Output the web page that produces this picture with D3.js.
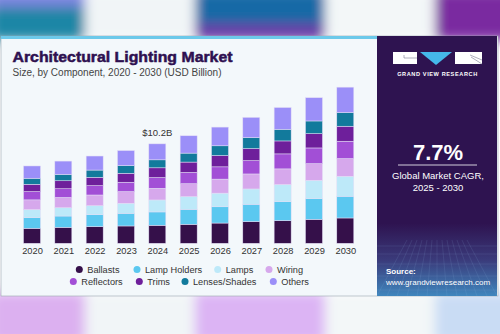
<!DOCTYPE html>
<html>
<head>
<meta charset="utf-8">
<script src="https://cdn.jsdelivr.net/npm/d3@7"></script>
<style>
  html, body { margin: 0; padding: 0; background: #fff; }
  svg { display: block; font-family: "Liberation Sans", Arial, sans-serif; }
</style>
</head>
<body>
<svg id="chart" width="500" height="334"></svg>
<script>
// --- data (USD Billion) ---
const years = ["2020", "2021", "2022", "2023", "2024", "2025", "2026", "2027", "2028", "2029", "2030"];
const components = ["Ballasts", "Lamp Holders", "Lamps", "Wiring", "Reflectors", "Trims", "Lenses/Shades", "Others"];
const ballasts     = [1.54, 1.64, 1.71, 1.78, 1.85, 1.95, 2.08, 2.23, 2.33, 2.46, 2.60];
const lampHolders  = [1.10, 1.16, 1.23, 1.30, 1.37, 1.54, 1.67, 1.78, 1.95, 2.13, 2.23];
const lamps        = [0.82, 0.85, 0.92, 1.03, 1.23, 1.30, 1.40, 1.57, 1.75, 1.88, 2.05];
const wiring       = [1.00, 1.06, 1.10, 1.20, 1.20, 1.33, 1.44, 1.54, 1.61, 1.71, 1.82];
const reflectors   = [0.85, 0.89, 0.96, 0.96, 1.10, 1.16, 1.26, 1.37, 1.54, 1.61, 1.78];
const trims        = [0.75, 0.82, 0.85, 0.92, 1.00, 1.06, 1.16, 1.23, 1.33, 1.47, 1.54];
const lenses       = [0.62, 0.65, 0.75, 0.79, 0.82, 0.92, 1.00, 1.13, 1.20, 1.30, 1.41];
const others       = [1.26, 1.37, 1.44, 1.54, 1.64, 1.78, 1.92, 2.08, 2.23, 2.39, 2.60];
const seriesValues = [ballasts, lampHolders, lamps, wiring, reflectors, trims, lenses, others];
const colors = ["#35104a", "#5bc8f0", "#bde9f9", "#d6a8ec", "#a24fd6", "#6e1f9b", "#127a9c", "#9b8ff8"];
const calloutYear = "2024";
const calloutText = "$10.2B";

const svg = d3.select("#chart");
const defs = svg.append("defs");

// --- blurred backdrop outside the card ---
defs.append("filter").attr("id", "blur")
  .attr("x", "-20%").attr("y", "-50%").attr("width", "140%").attr("height", "200%")
  .append("feGaussianBlur").attr("stdDeviation", 6);

const bg = svg.append("g").attr("filter", "url(#blur)");
const topBlocks = [
  [-10, 95, "#1a86a6"], [85, 110, "#f1f5f7"], [195, 130, "#1569a6"],
  [325, 110, "#f3f7f8"], [435, 80, "#7a2aa0"]
];
topBlocks.forEach(([x, w, c]) => bg.append("rect").attr("x", x).attr("y", -10).attr("width", w).attr("height", 50).attr("fill", c));
bg.append("rect").attr("x", -10).attr("y", -10).attr("width", 95).attr("height", 17).attr("fill", "#7b85e0");
bg.append("rect").attr("x", 195).attr("y", 24).attr("width", 130).attr("height", 16).attr("fill", "#6a3aa8");
const botBlocks = [
  [-10, 95, "#dcb0f0"], [85, 110, "#f1f5f7"], [195, 130, "#dcb4f4"],
  [325, 110, "#f3f7f8"], [435, 80, "#c9dcf4"]
];
botBlocks.forEach(([x, w, c]) => bg.append("rect").attr("x", x).attr("y", 292).attr("width", w).attr("height", 52).attr("fill", c));

// --- card ---
svg.append("rect").attr("x", 1).attr("y", 36).attr("width", 497).attr("height", 260)
  .attr("fill", "#f3f8fb").attr("stroke", "#9aa3ad").attr("stroke-width", 0.6);
svg.append("rect").attr("x", 1).attr("y", 36).attr("width", 377).attr("height", 3).attr("fill", "#6cc9ea");

// right panel
const panelGrad = defs.append("linearGradient").attr("id", "panelGrad").attr("x1", 0).attr("y1", 0).attr("x2", 0).attr("y2", 1);
panelGrad.append("stop").attr("offset", "0%").attr("stop-color", "#2e1350");
panelGrad.append("stop").attr("offset", "72%").attr("stop-color", "#2e1350");
panelGrad.append("stop").attr("offset", "86%").attr("stop-color", "#3a3a7a");
panelGrad.append("stop").attr("offset", "100%").attr("stop-color", "#3f86bd");
svg.append("rect").attr("x", 377).attr("y", 36).attr("width", 120).attr("height", 260).attr("fill", "url(#panelGrad)");

// faint perspective grid in the panel foot
const grid = svg.append("g").attr("stroke", "#8fb4e0").attr("stroke-opacity", 0.25).attr("stroke-width", 0.5);
d3.range(0, 13).forEach(i => {
  const xb = 377 + i * 10;
  grid.append("line").attr("x1", 437 + (xb - 437) * 0.5).attr("y1", 240).attr("x2", xb).attr("y2", 296);
});
[246, 254, 264, 276, 290].forEach(yy => grid.append("line").attr("x1", 377).attr("x2", 497).attr("y1", yy).attr("y2", yy));

// logo
const logo = svg.append("g");
logo.append("rect").attr("x", 393).attr("y", 52).attr("width", 24).attr("height", 12).attr("fill", "#ffffff");
logo.append("path").attr("d", "M404,55 L404,58 L417,58").attr("fill", "none").attr("stroke", "#7a7a90").attr("stroke-width", 0.6);
logo.append("path").attr("d", "M420,52 L452,52 L436,65 Z").attr("fill", "#45b8ea");
logo.append("rect").attr("x", 455).attr("y", 52).attr("width", 27).attr("height", 12).attr("fill", "#ffffff");
logo.append("path").attr("d", "M470,55 L482,60 M471,57 L482,64").attr("stroke", "#7a7a90").attr("stroke-width", 0.6);
logo.append("text").attr("x", 437.5).attr("y", 75.5).attr("text-anchor", "middle")
  .attr("fill", "#ffffff").attr("font-size", 5.6).attr("font-weight", 700).attr("letter-spacing", 0.6)
  .text("GRAND VIEW RESEARCH");

svg.append("text").attr("x", 438).attr("y", 160).attr("text-anchor", "middle")
  .attr("fill", "#ffffff").attr("font-size", 22).attr("font-weight", 700).text("7.7%");
svg.append("line").attr("x1", 398).attr("x2", 477).attr("y1", 165).attr("y2", 165)
  .attr("stroke", "#ffffff").attr("stroke-width", 0.8);
svg.append("text").attr("x", 438).attr("y", 179).attr("text-anchor", "middle")
  .attr("fill", "#ffffff").attr("font-size", 9.5).text("Global Market CAGR,");
svg.append("text").attr("x", 438).attr("y", 191).attr("text-anchor", "middle")
  .attr("fill", "#ffffff").attr("font-size", 9.5).text("2025 - 2030");
svg.append("text").attr("x", 386).attr("y", 274).attr("fill", "#ffffff")
  .attr("font-size", 8).attr("font-weight", 700).text("Source:");
svg.append("text").attr("x", 386).attr("y", 285).attr("fill", "#ffffff")
  .attr("font-size", 8).text("www.grandviewresearch.com");

// titles
svg.append("text").attr("x", 12.5).attr("y", 62).attr("fill", "#2e1050")
  .attr("font-size", 15).attr("font-weight", 900).attr("stroke", "#2e1050").attr("stroke-width", 0.5)
  .attr("textLength", 220).attr("lengthAdjust", "spacingAndGlyphs")
  .text("Architectural Lighting Market");
svg.append("text").attr("x", 12.5).attr("y", 75.5).attr("fill", "#444")
  .attr("font-size", 10).text("Size, by Component, 2020 - 2030 (USD Billion)");

// --- stacked bars ---
const table = years.map((yr, i) => {
  const row = { year: yr };
  components.forEach((c, k) => { row[c] = seriesValues[k][i]; });
  return row;
});
const stacked = d3.stack().keys(components)(table);

const x = d3.scalePoint().domain(years).range([32, 345.3]);
const y = d3.scaleLinear().domain([0, 17]).range([243.3, 243.3 - 17 * 9.74]);
const barW = 17;
const color = d3.scaleOrdinal().domain(components).range(colors);

svg.append("g").selectAll("g").data(stacked).join("g")
  .attr("fill", d => color(d.key))
  .selectAll("rect").data(d => d).join("rect")
  .attr("x", d => x(d.data.year) - barW / 2)
  .attr("y", d => y(d[1]))
  .attr("width", barW)
  .attr("height", d => y(d[0]) - y(d[1]))
  .attr("stroke", "#e4ddf6").attr("stroke-width", 0.5);

const total = d3.sum(seriesValues, s => s[years.indexOf(calloutYear)]);
svg.append("text").attr("x", x(calloutYear)).attr("y", y(total) - 8)
  .attr("text-anchor", "middle").attr("fill", "#333").attr("font-size", 9.5)
  .text(calloutText);

const xAxis = svg.append("g").attr("transform", `translate(0, ${y(0)})`)
  .call(d3.axisBottom(x).tickSize(0).tickPadding(4));
xAxis.select(".domain").remove();
xAxis.selectAll("text").attr("font-size", 9.3).attr("fill", "#333")
  .attr("font-family", "Liberation Sans, Arial, sans-serif");

// --- legend ---
const legendPos = [
  [79.3, 269.5], [137, 269.5], [217.7, 269.5], [269, 269.5],
  [73.3, 281.5], [139.3, 281.5], [185, 281.5], [273.3, 281.5]
];
const legend = svg.append("g").selectAll("g").data(components).join("g")
  .attr("transform", (d, i) => `translate(${legendPos[i][0]}, ${legendPos[i][1]})`);
legend.append("circle").attr("r", 3.5).attr("fill", d => color(d));
legend.append("text").attr("x", 8).attr("y", 3.3).attr("font-size", 9.2)
  .attr("fill", "#333").text(d => d);
</script>
</body>
</html>
